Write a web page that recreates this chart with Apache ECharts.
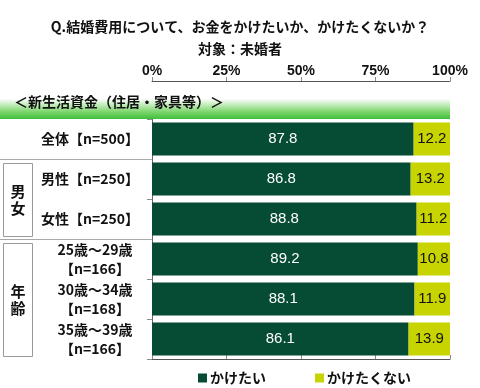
<!DOCTYPE html>
<html><head><meta charset="utf-8">
<script src="https://cdn.jsdelivr.net/npm/echarts@6/dist/echarts.min.js"></script>
<style>html,body{margin:0;padding:0;background:#fff}#c{width:480px;height:388px}</style>
</head><body><div id="c"></div>
<script>
const titleText = 'Q.結婚費用について、お金をかけたいか、かけたくないか？';
const subText = '対象：未婚者';
const sectionLabel = '＜新生活資金（住居・家具等）＞';
const categories = ['全体【n=500】','男性【n=250】','女性【n=250】','25歳～29歳\n【n=166】','30歳～34歳\n【n=168】','35歳～39歳\n【n=166】'];
const seriesNames = ['かけたい','かけたくない'];
const wantValues = [87.8, 86.8, 88.8, 89.2, 88.1, 86.1];
const notWantValues = [12.2, 13.2, 11.2, 10.8, 11.9, 13.9];
const xTicks = [0, 25, 50, 75, 100];
const groups = [{name:'男\n女', from:1, to:2}, {name:'年\n齢', from:3, to:5}];

const JP = '"Noto Sans CJK JP", "Noto Sans", sans-serif';
const NUM = '"Liberation Sans", Arial, sans-serif';
const cDark = '#064b33';
const cLight = '#c8d400';
const gray = '#8c8c8c';

const chart = echarts.init(document.getElementById('c'));
const gridTop = 119, gridBottom = 29, gridLeft = 152, gridRight = 30;
const labelBase = {fontFamily: JP, fontWeight: 'bold', fontSize: 14, lineHeight: 19, color: '#111'};

chart.setOption({
  animation: false,
  title: {
    text: titleText + '\n' + subText,
    left: 'center', top: 11,
    textStyle: {fontFamily: JP, fontWeight: 'bold', fontSize: 14, lineHeight: 22, color: '#111'}
  },
  legend: {
    data: seriesNames, left: 193, top: 366,
    icon: 'rect', itemWidth: 9, itemHeight: 9, itemGap: 49,
    textStyle: {fontFamily: JP, fontWeight: 'bold', fontSize: 14, color: '#111', padding: [0,0,0,-2]}
  },
  grid: {left: gridLeft, right: gridRight, top: gridTop, bottom: gridBottom},
  xAxis: [{
    type: 'value', position: 'top', offset: 38, min: 0, max: 100, interval: 25,
    axisLine: {show: true, lineStyle: {color: '#555', width: 1}},
    axisTick: {show: true, length: 4, lineStyle: {color: gray}},
    axisLabel: {margin: 3, formatter: v => xTicks.includes(v) ? v + '%' : '', fontFamily: NUM, fontWeight: 'bold', fontSize: 14, color: '#111'},
    splitLine: {show: false}
  }, {
    type: 'value', position: 'bottom', min: 0, max: 100, interval: 25,
    axisLine: {show: true, lineStyle: {color: '#555', width: 1}},
    axisTick: {show: true, inside: true, length: 4, lineStyle: {color: gray}},
    axisLabel: {show: false}, splitLine: {show: false}
  }],
  yAxis: [{
    type: 'category', data: categories, inverse: true,
    axisLine: {show: true, lineStyle: {color: gray}},
    axisTick: {show: true, length: 5, lineStyle: {color: gray}},
    axisLabel: Object.assign({
      align: 'center', margin: 62,
      formatter: v => v.includes('\n') ? v.split('\n').map(s => '{t|' + s + '}').join('\n') : v,
      rich: {t: Object.assign({}, labelBase, {padding: [0, 0, 0, 10]})}
    }, labelBase)
  }, {
    type: 'category', data: categories, inverse: true, position: 'right',
    axisLine: {show: true, lineStyle: {color: '#666'}},
    axisTick: {show: false}, axisLabel: {show: false}
  }],
  series: [{
    name: seriesNames[0], type: 'bar', stack: 's', data: wantValues, barWidth: 33,
    itemStyle: {color: cDark},
    label: {show: true, position: 'inside', formatter: p => p.value.toFixed(1), fontFamily: NUM, fontSize: 15, color: '#fff'}
  }, {
    name: seriesNames[1], type: 'bar', stack: 's', data: notWantValues, barWidth: 33,
    itemStyle: {color: cLight},
    label: {show: true, position: 'inside', formatter: p => p.value.toFixed(1), fontFamily: NUM, fontSize: 15, color: '#111'}
  }]
});

// decorations computed from the axis positions
const rowY = i => chart.convertToPixel({yAxisIndex: 0}, categories[i]);
const rowH = rowY(1) - rowY(0);
const x100 = chart.convertToPixel({xAxisIndex: 0}, 100);
const x0 = chart.convertToPixel({xAxisIndex: 0}, 0);
const g = [];
g.push({
  type: 'rect', z: 100,
  shape: {x: 0, y: gridTop - 37, width: x100, height: 37},
  style: {fill: new echarts.graphic.LinearGradient(0, 0, 0, 1, [
    {offset: 0, color: '#ffffff'}, {offset: 0.45, color: '#ffffff'}, {offset: 0.8, color: '#7fd66f'}, {offset: 1, color: '#3fbf3a'}])}
});
g.push({
  type: 'text', z: 101, left: 14, top: gridTop - 24,
  style: {text: sectionLabel, font: 'bold 14px ' + JP, fill: '#111'}
});
[1, 3].forEach(i => {
  const y = Math.round(rowY(i) - rowH / 2) + 0.5;
  g.push({type: 'line', z: 50, shape: {x1: 0, y1: y, x2: x0, y2: y}, style: {stroke: '#aaa', lineWidth: 1}});
});
groups.forEach(gr => {
  const top = rowY(gr.from) - rowH / 2 + 4;
  const bot = rowY(gr.to) + rowH / 2 - 3;
  g.push({type: 'rect', z: 50, shape: {x: 3.5, y: Math.round(top) + 0.5, width: 29, height: Math.round(bot - top)},
    style: {fill: '#fff', stroke: '#999', lineWidth: 1}});
  g.push({type: 'text', z: 51, x: 18, y: (top + bot) / 2,
    style: {text: gr.name, font: 'bold 15px ' + JP, fill: '#111', align: 'center', verticalAlign: 'middle', lineHeight: 17}});
});
chart.setOption({graphic: g});
</script></body></html>
